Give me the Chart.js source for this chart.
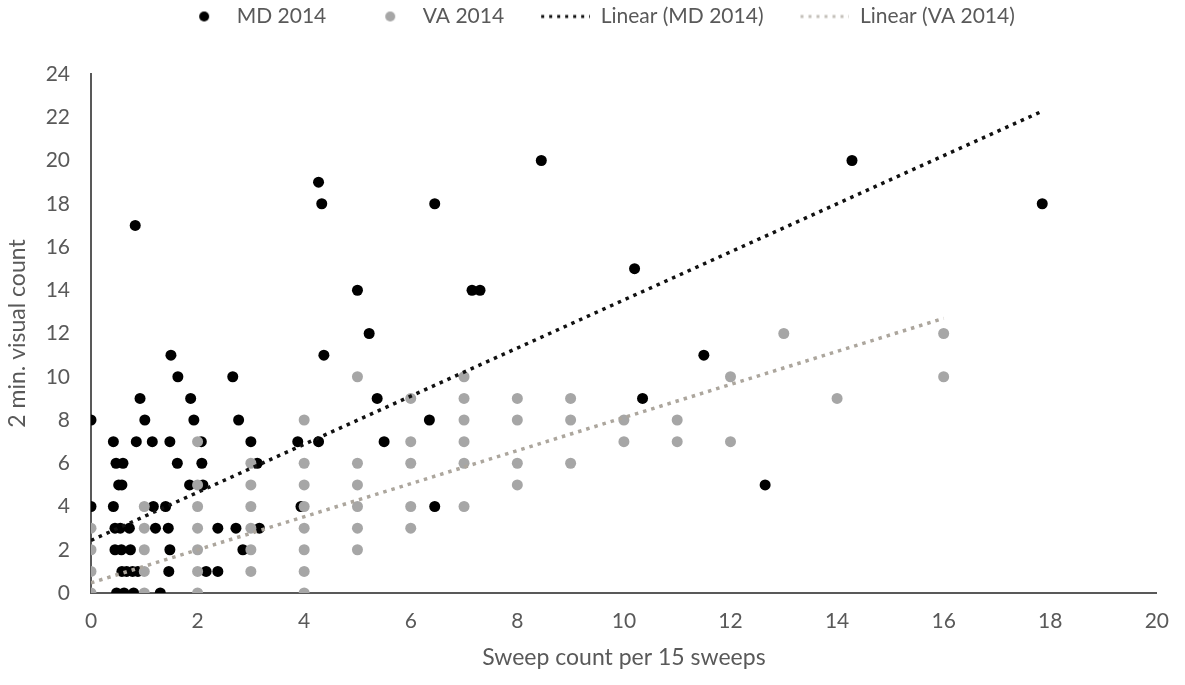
<!DOCTYPE html>
<html lang="en">

<head>
    <meta charset="UTF-8">
    <title>Sweep vs visual count</title>
    <style>
        body { margin: 0; background: #fff; }
        #wrap { width: 1185px; height: 685px; }
    </style>
</head>

<body>
    <div id="wrap"><canvas id="chart"></canvas></div>
    <script src="https://cdn.jsdelivr.net/npm/chart.js@4/dist/chart.umd.min.js"></script>
    <script>
        // MD 2014 points: sweep count (x), 2 min visual count (y)
        const mdX = [0, 0,
            0.42, 0.85, 1.15, 1.48, 2.07, 3.0, 3.88, 4.27, 5.5,
            0.47, 0.6, 1.62, 2.08, 3.12,
            0.52, 0.58, 1.85, 2.1, 12.65,
            0.42, 1.17, 1.4, 3.94, 6.45,
            0.45, 0.55, 0.72, 1.21, 1.45, 2.38, 2.72, 3.16,
            0.45, 0.57, 0.74, 1.48, 2.85,
            0.58, 0.67, 0.78, 0.88, 1.46, 2.16, 2.38,
            0.48, 0.62, 0.8, 1.3,
            0.92, 1.87, 5.37, 10.35,
            1.01, 1.93, 2.77, 6.35,
            1.63, 2.66,
            1.5, 4.37, 11.5,
            5.22,
            5, 7.15, 7.3,
            10.2,
            0.83,
            4.33, 6.45, 17.85,
            4.27,
            8.45, 14.28]
        const mdY = [8, 4,
            7, 7, 7, 7, 7, 7, 7, 7, 7,
            6, 6, 6, 6, 6,
            5, 5, 5, 5, 5,
            4, 4, 4, 4, 4,
            3, 3, 3, 3, 3, 3, 3, 3,
            2, 2, 2, 2, 2,
            1, 1, 1, 1, 1, 1, 1,
            0, 0, 0, 0,
            9, 9, 9, 9,
            8, 8, 8, 8,
            10, 10,
            11, 11, 11,
            12,
            14, 14, 14,
            15,
            17,
            18, 18, 18,
            19,
            20, 20]

        // VA 2014 points
        const vaX = [0, 0, 0, 0,
            1, 1, 1, 1, 1,
            2, 2, 2, 2, 2, 2, 2,
            3, 3, 3, 3, 3, 3,
            4, 4, 4, 4, 4, 4, 4, 4,
            5, 5, 5, 5, 5, 5,
            6, 6, 6, 6, 6,
            7, 7, 7, 7, 7, 7,
            8, 8, 8, 8,
            9, 9, 9,
            10, 10, 11, 11, 12, 12, 13, 14, 16, 16]
        const vaY = [0, 1, 2, 3,
            0, 1, 2, 3, 4,
            0, 1, 2, 3, 4, 5, 7,
            1, 2, 3, 4, 5, 6,
            0, 1, 2, 3, 4, 5, 6, 8,
            2, 3, 4, 5, 6, 10,
            3, 4, 6, 7, 9,
            4, 6, 7, 8, 9, 10,
            5, 6, 8, 9,
            6, 8, 9,
            7, 8, 7, 8, 7, 10, 12, 9, 10, 12]

        // trendline ends as drawn in the picture
        const mdTrendX = [0, 17.85]
        const mdTrendY = [2.43, 22.28]
        const vaTrendX = [0, 16]
        const vaTrendY = [0.47, 12.7]

        const xTicks = [0, 2, 4, 6, 8, 10, 12, 14, 16, 18, 20]
        const yTicks = [0, 2, 4, 6, 8, 10, 12, 14, 16, 18, 20, 22, 24]

        const pts = (xs, ys) => xs.map((x, i) => ({ x: x, y: ys[i] }))

        const textGray = '#595959'
        const font = 'Lato'
        const mdColor = '#000000'
        const vaColor = '#a6a6a6'
        const mdLineColor = '#111111'
        const vaLineColor = '#aca69d'

        // legend swatches: 80px wide so the circle/dots sit just before the text
        function dotSwatch(color) {
            const c = document.createElement('canvas')
            c.width = 80; c.height = 12
            const g = c.getContext('2d')
            g.fillStyle = color
            g.beginPath(); g.arc(58, 6, 5, 0, Math.PI * 2); g.fill()
            return c
        }
        function lineSwatch(color) {
            const c = document.createElement('canvas')
            c.width = 80; c.height = 12
            const g = c.getContext('2d')
            g.strokeStyle = color
            g.lineWidth = 3
            g.setLineDash([3, 5])
            g.beginPath(); g.moveTo(31, 6); g.lineTo(80, 6); g.stroke()
            return c
        }

        // extra space under the legend
        const legendGap = {
            id: 'legendGap',
            beforeInit(chart) {
                const fit = chart.legend.fit
                chart.legend.fit = function () {
                    fit.bind(chart.legend)()
                    this.height += 37
                }
            }
        }

        var ctx = document.getElementById('chart').getContext('2d');
        var myChart = new Chart(ctx, {
            type: 'scatter',
            data: {
                datasets: [{
                    label: 'MD 2014',
                    data: pts(mdX, mdY),
                    backgroundColor: mdColor,
                    borderColor: mdColor,
                    borderWidth: 0,
                    pointRadius: 5.5,
                    swatch: dotSwatch(mdColor),
                    order: 4
                }, {
                    label: 'VA 2014',
                    data: pts(vaX, vaY),
                    backgroundColor: vaColor,
                    borderColor: vaColor,
                    borderWidth: 0,
                    pointRadius: 5.5,
                    swatch: dotSwatch(vaColor),
                    order: 3
                }, {
                    label: 'Linear (MD 2014)',
                    data: pts(mdTrendX, mdTrendY),
                    showLine: true,
                    borderColor: mdLineColor,
                    borderWidth: 3.5,
                    borderDash: [3.5, 5],
                    pointRadius: 0,
                    swatch: lineSwatch(mdLineColor),
                    order: 2
                }, {
                    label: 'Linear (VA 2014)',
                    data: pts(vaTrendX, vaTrendY),
                    showLine: true,
                    borderColor: vaLineColor,
                    borderWidth: 3.5,
                    borderDash: [3.5, 5],
                    pointRadius: 0,
                    swatch: lineSwatch('#c4c0ba'),
                    order: 1
                }]
            },
            options: {
                responsive: true,
                maintainAspectRatio: false,
                animation: false,
                layout: { padding: { top: 0, right: 24, left: 0, bottom: 0 } },
                plugins: {
                    tooltip: { enabled: false },
                    legend: {
                        position: 'top',
                        labels: {
                            usePointStyle: true,
                            pointStyleWidth: 80,
                            boxHeight: 12,
                            padding: 6,
                            color: textGray,
                            font: { family: font, size: 21 },
                            generateLabels: (chart) => chart.data.datasets.map((ds, i) => ({
                                text: ds.label,
                                fontColor: textGray,
                                fillStyle: ds.backgroundColor || ds.borderColor,
                                strokeStyle: ds.borderColor,
                                lineWidth: 0,
                                pointStyle: ds.swatch,
                                hidden: false,
                                datasetIndex: i
                            }))
                        }
                    }
                },
                scales: {
                    x: {
                        type: 'linear',
                        min: 0,
                        max: 20,
                        afterBuildTicks: (axis) => { axis.ticks = xTicks.map(v => ({ value: v })) },
                        afterFit: (axis) => { axis.height = 92 },
                        grid: { display: false, drawTicks: false },
                        border: { display: true, color: '#595959', width: 2 },
                        ticks: { color: textGray, padding: 16, font: { family: font, size: 21 } },
                        title: {
                            display: true,
                            text: 'Sweep count per 15 sweeps',
                            color: textGray,
                            padding: { top: 14, bottom: 14 },
                            font: { family: font, size: 23 }
                        }
                    },
                    y: {
                        type: 'linear',
                        min: 0,
                        max: 24,
                        afterBuildTicks: (axis) => { axis.ticks = yTicks.map(v => ({ value: v })) },
                        afterFit: (axis) => { axis.width = 91 },
                        grid: { display: false, drawTicks: false },
                        border: { display: true, color: '#595959', width: 2 },
                        ticks: { color: textGray, padding: 21, font: { family: font, size: 21 } },
                        title: {
                            display: true,
                            text: '2 min. visual count',
                            color: textGray,
                            padding: { top: 4, bottom: 0 },
                            font: { family: font, size: 23 }
                        }
                    }
                }
            },
            plugins: [legendGap]
        });
    </script>
</body>

</html>
